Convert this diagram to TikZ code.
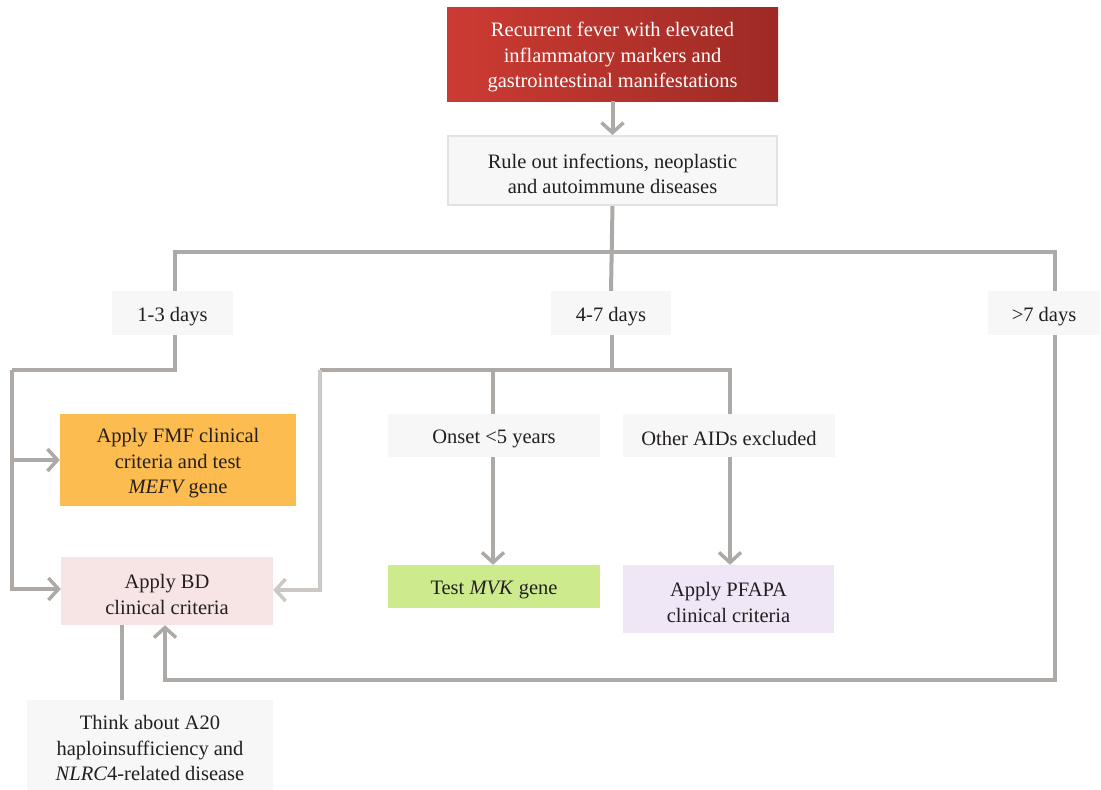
\documentclass[tikz,border=0pt]{standalone}
\usepackage{fontspec}
\setmainfont{Liberation Serif}
\usetikzlibrary{arrows.meta}
\definecolor{ln}{HTML}{ADA9A6}
\definecolor{lnlight}{HTML}{CBC8C6}
\definecolor{txt}{HTML}{231F20}
\definecolor{boxgray}{HTML}{F7F7F7}
\definecolor{boxedge}{HTML}{E2E2E2}
\definecolor{redL}{HTML}{CC3B33}
\definecolor{redR}{HTML}{9E2A25}
\definecolor{fmfc}{HTML}{FCBC50}
\definecolor{bdc}{HTML}{F7E4E4}
\definecolor{mvkc}{HTML}{CDEB8C}
\definecolor{pfc}{HTML}{EFE6F6}
\newcommand\upx{\rule{0pt}{21pt}}
\tikzset{
  box/.style={draw=none, text=txt, align=center, inner sep=0pt,
    font=\fontsize{20.5}{25.5}\selectfont},
  graybox/.style={box, fill=boxgray},
  conn/.style={draw=ln, line width=4pt},
  arr/.style={conn, -{Straight Barb[length=10pt,width=22pt,line width=3.5pt]}},
}
\begin{document}
\begin{tikzpicture}[x=1pt,y=-1pt]
\useasboundingbox (0,0) rectangle (1101,790);
% nodes
\node[box, text=white, left color=redL, right color=redR, minimum width=331pt, minimum height=94pt] (top) at (612.5,54)
  {\upx Recurrent fever with elevated\\inflammatory markers and\\gastrointestinal manifestations};
\node[graybox, draw=boxedge, line width=2pt, minimum width=329pt, minimum height=69pt] (rule) at (612.5,170.5)
  {\upx Rule out infections, neoplastic\\and autoimmune diseases};
\node[graybox, minimum width=121pt, minimum height=44pt] (d13) at (172.5,313) {\upx 1-3 days};
\node[graybox, minimum width=120pt, minimum height=44pt] (d47) at (611,313) {\upx 4-7 days};
\node[graybox, minimum width=112pt, minimum height=44pt] (d7) at (1044,313) {\upx >7 days};
\node[box, fill=fmfc, minimum width=236pt, minimum height=92pt] (fmf) at (178,460)
  {\upx Apply FMF clinical\\criteria and test\\\textit{MEFV}\,gene};
\node[box, fill=bdc, minimum width=212pt, minimum height=68pt] (bd) at (167,591)
  {\upx Apply BD\\clinical criteria};
\node[graybox, minimum width=212pt, minimum height=43pt] (onset) at (494,435.5) {\upx Onset <5 years};
\node[graybox, minimum width=212pt, minimum height=43pt] (other) at (729,435.5) {\upx Other AIDs excluded};
\node[box, fill=mvkc, minimum width=212pt, minimum height=43pt] (mvk) at (494,586.5) {\upx Test \textit{MVK} gene};
\node[box, fill=pfc, minimum width=211pt, minimum height=68pt] (pfapa) at (728.5,599)
  {\upx Apply PFAPA\\clinical criteria};
\node[graybox, minimum width=246pt, minimum height=90pt] (think) at (150,745)
  {\upx Think about A20\\haploinsufficiency and\\\textit{NLRC}4-related disease};
% routing coordinates
\coordinate (jL) at (175,252);
\coordinate (jR) at (1055,252);
\coordinate (k1) at (175,370);
\coordinate (k1L) at (12,370);
\coordinate (k2) at (612,370);
\coordinate (k2L) at (320,370);
\coordinate (k2R) at (730,370);
\coordinate (k2M) at (493,370);
\coordinate (r1) at (1055,680);
\coordinate (r2) at (165,680);
\coordinate (t1) at (122,0);
% connectors
\draw[arr] (top.south) -- (rule.north);
\draw[conn] (rule.south) -- (d47.north);
\draw[conn] (d13.north -| jL) -- (jL) -- (jR) -- (d7.north -| jR);
\draw[conn] (d13.south -| k1) -- (k1) -- (k1L);
\draw[arr] (k1L) |- ([yshift=2pt]bd.west);
\draw[arr] (k1L |- fmf.west) -- (fmf.west);
\draw[conn] (d47.south -| k2) -- (k2);
\draw[conn] (k2L) -- (k2R) -- (other.north -| k2R);
\draw[conn] (k2M) -- (onset.north -| k2M);
\draw[arr, draw=lnlight] (k2L) |- ([yshift=1pt]bd.east);
\draw[arr] (onset.south -| k2M) -- (mvk.north -| k2M);
\draw[arr] (other.south -| k2R) -- (pfapa.north -| k2R);
\draw[arr] (d7.south -| jR) -- (r1) -- (r2) -- (bd.south -| r2);
\draw[conn] (bd.south -| t1) -- (think.north -| t1);
\end{tikzpicture}
\end{document}
